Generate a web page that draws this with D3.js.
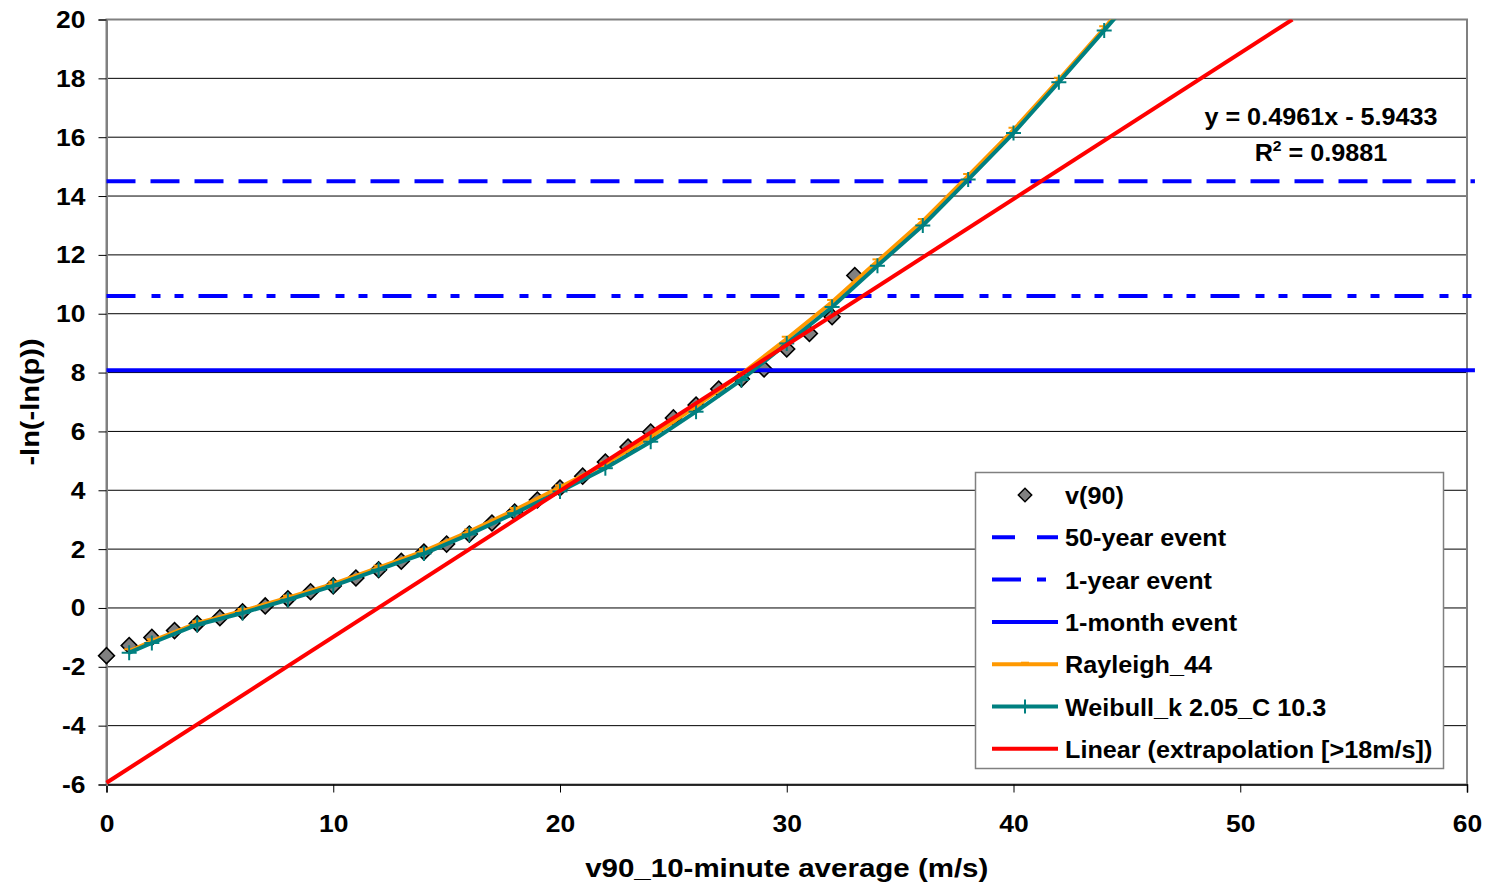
<!DOCTYPE html>
<html>
<head>
<meta charset="utf-8">
<script src="https://cdn.jsdelivr.net/npm/d3@7"></script>
<style>
  html, body { margin: 0; padding: 0; background: #fff; }
  svg { display: block; font-family: "Liberation Sans", Arial, sans-serif; }
</style>
</head>
<body>
<svg id="chart" width="1489" height="885"></svg>
<script>
// ---- data ----
const obsX = [0,1,2,3,4,5,6,7,8,9,10,11,12,13,14,15,16,17,18,19,20,21,22,23,24,25,26,27,28,29,30,31,32,33];
const obsY = [-1.62,-1.28,-1.0,-0.77,-0.54,-0.33,-0.13,0.07,0.31,0.55,0.75,1.02,1.30,1.59,1.90,2.17,2.51,2.89,3.26,3.67,4.08,4.48,4.96,5.47,5.98,6.46,6.90,7.44,7.78,8.12,8.80,9.33,9.90,11.30];

const fitX = [1,2,4,6,8,10,12,14,16,18,20,22,24,26,28,30,32,34,36,38,40,42,44,46];
const rayleighY = [-1.47,-1.13,-0.52,-0.10,0.35,0.82,1.37,1.93,2.60,3.33,4.10,4.90,5.82,6.85,7.95,9.15,10.40,11.78,13.15,14.68,16.25,17.95,19.70,21.50];
const weibullY  = [-1.52,-1.19,-0.57,-0.17,0.28,0.75,1.30,1.85,2.50,3.22,3.96,4.75,5.65,6.67,7.75,8.99,10.23,11.63,13.00,14.56,16.14,17.87,19.63,21.40];

const eventX = [0, 60.35];
const event50Y = 14.5;
const event1yY = 10.6;
const event1mY = 8.08;

const linearX = [0, 52.3];
const linearY = [-5.94, 20.0];

const xTicks = [0,10,20,30,40,50,60];
const yTicks = [-6,-4,-2,0,2,4,6,8,10,12,14,16,18,20];

const legendLabels = ["v(90)","50-year event","1-year event","1-month event","Rayleigh_44","Weibull_k 2.05_C 10.3","Linear (extrapolation [>18m/s])"];
const eqLine1 = "y = 0.4961x - 5.9433";
const eqLine2a = "R", eqLine2sup = "2", eqLine2b = " = 0.9881";

// ---- layout ----
const svg = d3.select("#chart");
const L = 106.5, R = 1467, T = 19.5, B = 784.5;
const x = d3.scaleLinear().domain([0,60]).range([L,R]);
const y = d3.scaleLinear().domain([-6,20]).range([B,T]);

const blue = "#0000FF", orange = "#FF9900", teal = "#008080", red = "#FF0000";

// helper: horizontally stretched text
function stext(parent, px, py, str, size, sx, anchor) {
  const g = parent.append("g").attr("transform", `translate(${px},${py}) scale(${sx},1)`);
  return g.append("text").attr("x", 0).attr("y", 0).attr("font-size", size)
    .attr("font-weight", "bold").attr("fill", "#000").attr("text-anchor", anchor || "start").text(str);
}

// gridlines
svg.append("g").selectAll("line").data(yTicks.filter(d => d !== -6 && d !== 20)).join("line")
  .attr("x1", L).attr("x2", R).attr("y1", d => y(d)).attr("y2", d => y(d))
  .attr("stroke", "#000").attr("stroke-width", 1);

// plot border
svg.append("rect").attr("x", L).attr("y", T).attr("width", R-L).attr("height", B-T)
  .attr("fill", "none").attr("stroke", "#808080").attr("stroke-width", 2);

// axes
const xAxis = d3.axisBottom(x).tickValues(xTicks).tickSize(8).tickFormat(String);
const gx = svg.append("g").attr("transform", `translate(0,${B})`).call(xAxis);
gx.select(".domain").attr("stroke", "#000").attr("stroke-width", 1.5);
gx.selectAll(".tick line").attr("stroke", "#000");
gx.selectAll(".tick text").remove();
gx.selectAll(".tick").each(function(d) {
  stext(d3.select(this), 0, 47, String(d), 23, 1.15, "middle");
});

const yAxis = d3.axisLeft(y).tickValues(yTicks).tickSize(8).tickFormat(String);
const gy = svg.append("g").attr("transform", `translate(${L},0)`).call(yAxis);
gy.select(".domain").attr("stroke", "#808080").attr("stroke-width", 2);
gy.selectAll(".tick line").attr("stroke", "#000");
gy.selectAll(".tick text").remove();
gy.selectAll(".tick").each(function(d) {
  stext(d3.select(this), -21, 8, String(d), 23, 1.15, "end");
});

// axis titles
stext(svg, (L+R)/2, 877, "v90_10-minute average (m/s)", 25, 1.18, "middle");
const yt = svg.append("g").attr("transform", `translate(39,${(T+B)/2}) rotate(-90)`);
stext(yt, 0, 0, "-ln(-ln(p))", 25, 1.16, "middle");

// clip
svg.append("defs").append("clipPath").attr("id", "clip")
  .append("rect").attr("x", L - 10).attr("y", T).attr("width", R - L + 30).attr("height", B - T + 10);
const plot = svg.append("g").attr("clip-path", "url(#clip)");

// observed diamonds
plot.append("g").selectAll("path").data(obsX.map((d,i) => [d, obsY[i]])).join("path")
  .attr("d", d3.symbol().type(d3.symbolSquare).size(125))
  .attr("transform", d => `translate(${x(d[0])},${y(d[1])}) rotate(45)`)
  .attr("fill", "#808080").attr("stroke", "#000").attr("stroke-width", 1.6);

// event lines
const hline = (val, dash) => plot.append("line")
  .attr("x1", x(eventX[0])).attr("x2", x(eventX[1])).attr("y1", y(val)).attr("y2", y(val))
  .attr("stroke", blue).attr("stroke-width", 4).attr("stroke-dasharray", dash);
hline(event50Y, "29,15");
hline(event1yY, "29,16,9,14,9,15");
hline(event1mY, null);

const line = d3.line().x(d => x(d[0])).y(d => y(d[1]));
// Rayleigh
const rData = fitX.map((d,i) => [d, rayleighY[i]]);
plot.append("path").datum(rData).attr("d", line).attr("fill", "none").attr("stroke", orange).attr("stroke-width", 4);
plot.append("g").selectAll("line").data(rData).join("line")
  .attr("x1", d => x(d[0]) - 5).attr("x2", d => x(d[0]) + 5)
  .attr("y1", d => y(d[1]) - 2).attr("y2", d => y(d[1]) - 2)
  .attr("stroke", orange).attr("stroke-width", 2);
// Weibull
const wData = fitX.map((d,i) => [d, weibullY[i]]);
plot.append("path").datum(wData).attr("d", line).attr("fill", "none").attr("stroke", teal).attr("stroke-width", 4);
const cross = plot.append("g").selectAll("g").data(wData).join("g")
  .attr("transform", d => `translate(${x(d[0])},${y(d[1])})`);
cross.append("line").attr("x1", -7.5).attr("x2", 7.5).attr("stroke", teal).attr("stroke-width", 2);
cross.append("line").attr("y1", -7.5).attr("y2", 7.5).attr("stroke", teal).attr("stroke-width", 2);

// Linear trendline
plot.append("path").datum(linearX.map((d,i) => [d, linearY[i]])).attr("d", line)
  .attr("fill", "none").attr("stroke", red).attr("stroke-width", 4);

// equation
stext(svg, 1321, 125, eqLine1, 24, 1.05, "middle");
const t2 = stext(svg, 1321, 161, "", 24, 1.05, "middle");
t2.append("tspan").text(eqLine2a);
t2.append("tspan").attr("dy", -10).attr("font-size", 15).text(eqLine2sup);
t2.append("tspan").attr("dy", 10).text(eqLine2b);

// legend
const lg = svg.append("g");
lg.append("rect").attr("x", 975.5).attr("y", 472.5).attr("width", 468).attr("height", 296)
  .attr("fill", "#fff").attr("stroke", "#808080").attr("stroke-width", 1.5);
const rowY = i => 495 + i * 42.3;
const sx1 = 992, sx2 = 1058, smid = 1025;
legendLabels.forEach((lab, i) => {
  stext(lg, 1065, rowY(i) + 9, lab, 24, 1.05, "start");
});
// symbols
lg.append("path").attr("d", d3.symbol().type(d3.symbolSquare).size(90)())
  .attr("transform", `translate(${smid},${rowY(0)}) rotate(45)`)
  .attr("fill", "#808080").attr("stroke", "#000").attr("stroke-width", 1.5);
lg.append("line").attr("x1", sx1).attr("x2", sx2).attr("y1", rowY(1)).attr("y2", rowY(1))
  .attr("stroke", blue).attr("stroke-width", 4).attr("stroke-dasharray", "23,22");
lg.append("line").attr("x1", sx1).attr("x2", sx2).attr("y1", rowY(2)).attr("y2", rowY(2))
  .attr("stroke", blue).attr("stroke-width", 4).attr("stroke-dasharray", "29,16,9,30");
lg.append("line").attr("x1", sx1).attr("x2", sx2).attr("y1", rowY(3)).attr("y2", rowY(3))
  .attr("stroke", blue).attr("stroke-width", 4);
lg.append("line").attr("x1", sx1).attr("x2", sx2).attr("y1", rowY(4)).attr("y2", rowY(4))
  .attr("stroke", orange).attr("stroke-width", 4);
lg.append("line").attr("x1", smid - 4).attr("x2", smid + 4).attr("y1", rowY(4) - 1.5).attr("y2", rowY(4) - 1.5)
  .attr("stroke", orange).attr("stroke-width", 2);
lg.append("line").attr("x1", sx1).attr("x2", sx2).attr("y1", rowY(5)).attr("y2", rowY(5))
  .attr("stroke", teal).attr("stroke-width", 4);
lg.append("line").attr("x1", smid).attr("x2", smid).attr("y1", rowY(5) - 7).attr("y2", rowY(5) + 7)
  .attr("stroke", teal).attr("stroke-width", 2);
lg.append("line").attr("x1", sx1).attr("x2", sx2).attr("y1", rowY(6)).attr("y2", rowY(6))
  .attr("stroke", red).attr("stroke-width", 4);
</script>
</body>
</html>
